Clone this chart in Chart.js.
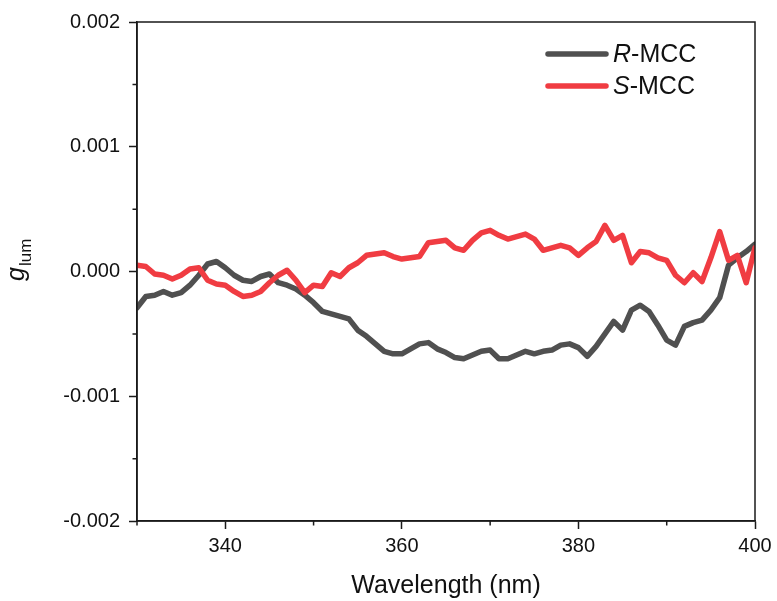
<!DOCTYPE html>
<html>
<head>
<meta charset="utf-8">
<script src="https://cdn.jsdelivr.net/npm/chart.js@4.4.1/dist/chart.umd.min.js"></script>
<style>
  html, body { margin: 0; padding: 0; background: #fff; }
  #wrap { width: 777px; height: 601px; }
</style>
</head>
<body>
<div id="wrap"><canvas id="glumChart" width="777" height="601"></canvas></div>
<script>
// Longitudes de onda (nm)
const wavelengths = [
  330, 331, 332, 333, 334, 335, 336, 337, 338, 339,
  340, 341, 342, 343, 344, 345, 346, 347, 348, 349,
  350, 351, 352, 353, 354, 355, 356, 357, 358, 359,
  360, 361, 362, 363, 364, 365, 366, 367, 368, 369,
  370, 371, 372, 373, 374, 375, 376, 377, 378, 379,
  380, 381, 382, 383, 384, 385, 386, 387, 388, 389,
  390, 391, 392, 393, 394, 395, 396, 397, 398, 399,
  400
];

// g_lum de R-MCC
const rMCC = [
  -0.00029, -0.00020, -0.00019, -0.00016, -0.00019, -0.00017, -0.00011, -0.00003, 0.00006, 0.00008,
  0.00003, -0.00003, -0.00007, -0.00008, -0.00004, -0.00002, -0.00009, -0.00011, -0.00014, -0.00019,
  -0.00025, -0.00032, -0.00034, -0.00036, -0.00038, -0.00047, -0.00052, -0.00058, -0.00064, -0.00066,
  -0.00066, -0.00062, -0.00058, -0.00057, -0.00062, -0.00065, -0.00069, -0.00070, -0.00067, -0.00064,
  -0.00063, -0.00070, -0.00070, -0.00067, -0.00064, -0.00066, -0.00064, -0.00063, -0.00059, -0.00058,
  -0.00061, -0.00068, -0.00060, -0.00050, -0.00040, -0.00047, -0.00031, -0.00027, -0.00032, -0.00043,
  -0.00055, -0.00059, -0.00044, -0.00041, -0.00039, -0.00031, -0.00021, 0.00005, 0.00011, 0.00016,
  0.00022
];

// g_lum de S-MCC
const sMCC = [
  0.00005, 0.00004, -0.00002, -0.00003, -0.00006, -0.00003, 0.00002, 0.00003, -0.00007, -0.00010,
  -0.00011, -0.00016, -0.00020, -0.00019, -0.00016, -0.00009, -0.00003, 0.00001, -0.00007, -0.00017,
  -0.00011, -0.00012, -0.00001, -0.00004, 0.00003, 0.00007, 0.00013, 0.00014, 0.00015, 0.00012,
  0.00010, 0.00011, 0.00012, 0.00023, 0.00024, 0.00025, 0.00019, 0.00017, 0.00025, 0.00031,
  0.00033, 0.00029, 0.00026, 0.00028, 0.00030, 0.00026, 0.00017, 0.00019, 0.00021, 0.00019,
  0.00013, 0.00019, 0.00024, 0.00037, 0.00025, 0.00029, 0.00007, 0.00016, 0.00015, 0.00011,
  0.00009, -0.00003, -0.00009, -0.00001, -0.00008, 0.00011, 0.00032, 0.00009, 0.00013, -0.00009,
  0.00019
];

// Marcas de los ejes
const xMajorTicks = [340, 360, 380, 400];
const xMinorTicks = [330, 350, 370, 390];
const yMinorTicks = [-0.0015, -0.0005, 0.0005, 0.0015];

const legendItems = [
  { italic: 'R', rest: '-MCC', color: '#505050' },
  { italic: 'S', rest: '-MCC', color: '#f03c42' }
];

const FONT = '"Liberation Sans", Arial, sans-serif';
const AXIS = '#1a1a1a';

// Marco, marcas menores, leyenda y títulos
const extrasPlugin = {
  id: 'extras',
  afterDraw(chart) {
    const { ctx, chartArea: a, scales } = chart;
    ctx.save();
    ctx.strokeStyle = AXIS;
    ctx.lineWidth = 1.5;
    ctx.strokeRect(a.left, a.top, a.right - a.left, a.bottom - a.top);

    // marcas menores
    ctx.beginPath();
    xMinorTicks.forEach(v => {
      const px = scales.x.getPixelForValue(v);
      ctx.moveTo(px, a.bottom);
      ctx.lineTo(px, a.bottom + 4.5);
    });
    yMinorTicks.forEach(v => {
      const py = scales.y.getPixelForValue(v);
      ctx.moveTo(a.left, py);
      ctx.lineTo(a.left - 4.5, py);
    });
    ctx.stroke();

    // leyenda
    ctx.fillStyle = '#111';
    ctx.textBaseline = 'alphabetic';
    ctx.textAlign = 'left';
    legendItems.forEach((it, i) => {
      const y = 54 + i * 32;
      ctx.strokeStyle = it.color;
      ctx.lineWidth = 5.5;
      ctx.lineCap = 'round';
      ctx.beginPath();
      ctx.moveTo(548, y);
      ctx.lineTo(606, y);
      ctx.stroke();
      ctx.font = 'italic 25px ' + FONT;
      ctx.fillText(it.italic, 613, y + 8);
      const w = ctx.measureText(it.italic).width;
      ctx.font = '25px ' + FONT;
      ctx.fillText(it.rest, 613 + w, y + 8);
    });

    // título eje x
    ctx.font = '25px ' + FONT;
    ctx.textAlign = 'center';
    ctx.fillText('Wavelength (nm)', (a.left + a.right) / 2, 593);

    // título eje y: g con subíndice lum
    ctx.translate(24, 281);
    ctx.rotate(-Math.PI / 2);
    ctx.textAlign = 'left';
    ctx.font = 'italic 25px ' + FONT;
    ctx.fillText('g', 0, 0);
    const gw = ctx.measureText('g').width;
    ctx.font = '17px ' + FONT;
    ctx.fillText('lum', gw + 1, 7);
    ctx.restore();
  }
};

const chart = new Chart(document.getElementById('glumChart'), {
  type: 'line',
  data: {
    labels: wavelengths,
    datasets: [{
      label: 'R-MCC',
      data: wavelengths.map((w, i) => ({ x: w, y: rMCC[i] })),
      borderColor: '#505050',
      borderWidth: 5.5,
      order: 2
    }, {
      label: 'S-MCC',
      data: wavelengths.map((w, i) => ({ x: w, y: sMCC[i] })),
      borderColor: '#f03c42',
      borderWidth: 5.5,
      order: 1
    }]
  },
  options: {
    responsive: false,
    animation: false,
    devicePixelRatio: 1,
    layout: { padding: { top: 22, right: 22, left: 0, bottom: 0 } },
    elements: {
      point: { radius: 0 },
      line: { tension: 0, borderJoinStyle: 'round', borderCapStyle: 'round' }
    },
    plugins: {
      legend: { display: false },
      tooltip: { enabled: false }
    },
    scales: {
      x: {
        type: 'linear',
        min: 330,
        max: 400,
        afterBuildTicks: s => { s.ticks = xMajorTicks.map(v => ({ value: v })); },
        afterFit: s => { s.height = 80; },
        border: { display: true, color: AXIS, width: 1.5 },
        grid: { drawOnChartArea: false, tickLength: 8, tickColor: AXIS, tickWidth: 1.5 },
        ticks: { color: '#111', padding: 5, maxRotation: 0, font: { family: FONT, size: 20 } }
      },
      y: {
        min: -0.002,
        max: 0.002,
        afterFit: s => { s.width = 137; },
        border: { display: true, color: AXIS, width: 1.5 },
        grid: { drawOnChartArea: false, tickLength: 8, tickColor: AXIS, tickWidth: 1.5 },
        ticks: {
          stepSize: 0.001,
          color: '#111',
          padding: 9,
          font: { family: FONT, size: 20 },
          callback: v => (Math.abs(v) < 1e-9 ? 0 : v).toFixed(3)
        }
      }
    }
  },
  plugins: [extrasPlugin]
});
</script>
</body>
</html>
